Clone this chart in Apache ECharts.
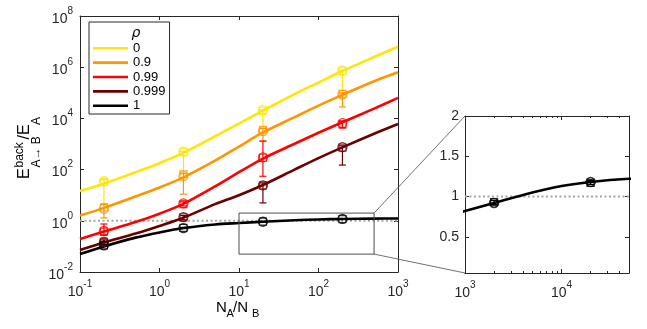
<!DOCTYPE html>
<html><head><meta charset="utf-8">
<script src="https://cdn.jsdelivr.net/npm/echarts@6/dist/echarts.min.js"></script>
<style>html,body{margin:0;padding:0;background:#fff}#c{width:647px;height:329px}</style>
</head><body><div id="c"></div>
<script>
const FONT = "'Liberation Sans',Arial,sans-serif";
const AX = '#262626';
const rhoLabels = ['0', '0.9', '0.99', '0.999', '1'];
const colors = ['#FFE600', '#FF9600', '#FF0000', '#6B0000', '#000000'];

// model curves
const curveX = [0.1, 0.2, 0.5, 1, 2, 5, 10, 20, 50, 100, 200, 500, 1000];
const curveRho0 = [14.5, 28, 79, 178, 447, 2000, 6300, 20000, 89000, 251000, 708000, 2500000, 6300000];
const curveRho09 = [1.6, 3.2, 8.9, 20, 50, 224, 794, 2820, 11200, 31600, 83000, 282000, 630000];
const curveRho099 = [0.195, 0.38, 0.89, 1.9, 4.6, 22, 79, 270, 1020, 2750, 7080, 24000, 63000];
const curveRho0999 = [0.072, 0.141, 0.316, 0.63, 1.32, 4.47, 10, 25, 100, 282, 741, 2510, 6030];
const curveRho1 = [0.05, 0.1, 0.22, 0.35, 0.52, 0.72, 0.82, 0.92, 1.05, 1.13, 1.18, 1.22, 1.23];
const curves = [curveRho0, curveRho09, curveRho099, curveRho0999, curveRho1];

// simulation points
const ptX = [0.2, 2, 20, 200];
const circRho0 = [35, 500, 21000, 750000];
const circRho09 = [2.9, 56, 3200, 85000];
const circRho099 = [0.4, 4.8, 300, 6500];
const circRho0999 = [0.15, 1.4, 24, 750];
const circRho1 = [0.11, 0.52, 0.92, 1.18];
const circles = [circRho0, circRho09, circRho099, circRho0999, circRho1];

const sqRho0 = [33, 480, 20000, 700000];
const sqRho09 = [3.3, 65, 3600, 90000];
const sqRho099 = [0.38, 4.5, 290, 6000];
const sqRho0999 = [0.15, 1.35, 24, 720];
const sqRho1 = [0.11, 0.53, 0.93, 1.17];
const squares = [sqRho0, sqRho09, sqRho099, sqRho0999, sqRho1];

const loRho0 = [4.5, 70, 4200, 95000];
const hiRho0 = [40, 520, 22000, 760000];
const loRho09 = [1.3, 11, 1300, 28000];
const hiRho09 = [4.5, 70, 4000, 100000];
const loRho099 = [0.28, 3.8, 55, 4200];
const hiRho099 = [0.75, 5.5, 1300, 7500];
const loRho0999 = [0.12, 1.1, 5, 150];
const hiRho0999 = [0.18, 1.6, 30, 850];
const loRho1 = [0.1, 0.5, 0.9, 1.15];
const hiRho1 = [0.12, 0.55, 0.95, 1.2];
const lows = [loRho0, loRho09, loRho099, loRho0999, loRho1];
const highs = [hiRho0, hiRho09, hiRho099, hiRho0999, hiRho1];

// axes
const xTicks = [0.1, 1, 10, 100, 1000];
const yTicks = [0.01, 1, 100, 1e4, 1e6, 1e8];
const refLevel = 1;
// zoom window (main coords) and inset
const zoomX = [10, 500];
const zoomY = [0.05, 2];
const insetScale = 100;
const insetX = [1000, 50000];
const insetXTicks = [1000, 10000];
const insetXMinor = [2000, 3000, 4000, 5000, 6000, 7000, 8000, 9000, 20000, 30000, 40000, 50000];
const insetYTicks = [0.5, 1, 1.5, 2];

const supFmt = v => '{b|10}{s|' + Math.round(Math.log10(v)) + '}';
const supRich = {
  b: { fontFamily: FONT, fontSize: 14, color: AX, lineHeight: 20, verticalAlign: 'bottom' },
  s: { fontFamily: FONT, fontSize: 10, color: AX, lineHeight: 12, verticalAlign: 'top' }
};

function axisBase(extra) {
  return Object.assign({
    axisLine: { show: true, lineStyle: { color: AX, width: 1 } },
    splitLine: { show: false },
    minorTick: { show: false },
  }, extra);
}

const chart = echarts.init(document.getElementById('c'), null, { renderer: 'canvas' });

const series = [];
// error bars
function errSeries(i, xi, yi, scale, xr) {
  const data = [];
  ptX.forEach((x, k) => {
    const xs = x * scale;
    if (!xr || (xs >= xr[0] && xs <= xr[1])) data.push([xs, lows[i][k], highs[i][k]]);
  });
  return {
    type: 'custom', name: 'err' + i + '_' + xi, xAxisIndex: xi, yAxisIndex: yi, z: 3, silent: true,
    encode: { x: 0, y: [1, 2] },
    renderItem(params, api) {
      const x = api.value(0);
      const p1 = api.coord([x, api.value(1)]);
      const p2 = api.coord([x, api.value(2)]);
      const w = 3.5, st = { stroke: colors[i], lineWidth: 1.2 };
      return { type: 'group', children: [
        { type: 'line', shape: { x1: p1[0], y1: p1[1], x2: p2[0], y2: p2[1] }, style: st },
        { type: 'line', shape: { x1: p1[0] - w, y1: p1[1], x2: p1[0] + w, y2: p1[1] }, style: st },
        { type: 'line', shape: { x1: p2[0] - w, y1: p2[1], x2: p2[0] + w, y2: p2[1] }, style: st }
      ]};
    },
    data: data
  };
}
for (let i = 0; i < 5; i++) {
  series.push({
    type: 'line', name: rhoLabels[i], xAxisIndex: 0, yAxisIndex: 0, z: 5,
    symbol: 'none', showSymbol: false, smooth: 0.3, lineStyle: { color: colors[i], width: 2.6 }, itemStyle: { color: colors[i] },
    data: curveX.map((x, k) => [x, curves[i][k]])
  });
  series.push(errSeries(i, 0, 0, 1, null));
  series.push({
    type: 'scatter', name: 'circ' + i, xAxisIndex: 0, yAxisIndex: 0, z: 6, symbol: 'circle', symbolSize: 9,
    itemStyle: { color: 'rgba(0,0,0,0)', borderColor: colors[i], borderWidth: 1.3 },
    data: ptX.map((x, k) => [x, circles[i][k]])
  });
  series.push({
    type: 'scatter', name: 'sq' + i, xAxisIndex: 0, yAxisIndex: 0, z: 6, symbol: 'rect', symbolSize: 7,
    itemStyle: { color: 'rgba(0,0,0,0)', borderColor: colors[i], borderWidth: 1.2 },
    data: ptX.map((x, k) => [x, squares[i][k]])
  });
}
// reference dotted line (main)
series.push({
  type: 'line', name: 'ref', xAxisIndex: 0, yAxisIndex: 0, z: 2, symbol: 'none',
  lineStyle: { color: '#a6a6a6', width: 2, type: [2, 2.5] },
  data: [[xTicks[0], refLevel], [xTicks[xTicks.length - 1], refLevel]]
});
// zoom rectangle
series.push({
  type: 'line', name: 'zoomRect', xAxisIndex: 0, yAxisIndex: 0, z: 7, symbol: 'none',
  lineStyle: { color: '#4d4d4d', width: 1 },
  data: [[zoomX[0], zoomY[0]], [zoomX[1], zoomY[0]], [zoomX[1], zoomY[1]], [zoomX[0], zoomY[1]], [zoomX[0], zoomY[0]]]
});
// inset
series.push({
  type: 'line', name: 'insRef', xAxisIndex: 2, yAxisIndex: 2, z: 2, symbol: 'none',
  lineStyle: { color: '#a6a6a6', width: 2, type: [2, 2.5] },
  data: [[insetX[0], refLevel], [insetX[1], refLevel]]
});
series.push({
  type: 'line', name: 'ins1', xAxisIndex: 2, yAxisIndex: 2, z: 5, symbol: 'none', smooth: 0.3,
  lineStyle: { color: colors[4], width: 2.6 },
  data: curveX.map((x, k) => [x * insetScale, curves[4][k]])
});
series.push(errSeries(4, 2, 2, insetScale, insetX));
series.push({
  type: 'scatter', name: 'insC', xAxisIndex: 2, yAxisIndex: 2, z: 6, symbol: 'circle', symbolSize: 9,
  itemStyle: { color: 'rgba(0,0,0,0)', borderColor: '#000', borderWidth: 1.5 },
  data: ptX.map((x, k) => [x * insetScale, circles[4][k]]).filter(d => d[0] >= insetX[0])
});
series.push({
  type: 'scatter', name: 'insS', xAxisIndex: 2, yAxisIndex: 2, z: 6, symbol: 'rect', symbolSize: 7,
  itemStyle: { color: 'rgba(0,0,0,0)', borderColor: '#000', borderWidth: 1.3 },
  data: ptX.map((x, k) => [x * insetScale, squares[4][k]]).filter(d => d[0] >= insetX[0])
});

const mainX = { type: 'log', logBase: 10, gridIndex: 0, min: xTicks[0], max: xTicks[xTicks.length - 1] };
const mainY = { type: 'log', logBase: 10, gridIndex: 0, min: yTicks[0], max: yTicks[yTicks.length - 1] };
const insX = { type: 'log', logBase: 10, gridIndex: 1, min: insetX[0], max: insetX[1] };
const insY = { type: 'value', gridIndex: 1, min: zoomY[0], max: zoomY[1] };

const option = {
  animation: false,
  backgroundColor: '#fff',
  grid: [
    { left: 80, top: 16, width: 318, height: 256 },
    { left: 465, top: 116, width: 164, height: 157 }
  ],
  xAxis: [
    axisBase(Object.assign({}, mainX, { position: 'bottom',
      axisTick: { show: true, inside: true, length: 4, lineStyle: { color: AX }, customValues: xTicks },
      axisLabel: { show: true, margin: 7, formatter: supFmt, rich: supRich, customValues: xTicks } })),
    axisBase(Object.assign({}, mainX, { position: 'top',
      axisTick: { show: true, inside: true, length: 4, lineStyle: { color: AX }, customValues: xTicks },
      axisLabel: { show: false } })),
    axisBase(Object.assign({}, insX, { position: 'bottom',
      axisTick: { show: true, inside: true, length: 4, lineStyle: { color: AX }, customValues: insetXTicks },
      axisLabel: { show: true, margin: 7, formatter: supFmt, rich: supRich, customValues: insetXTicks } })),
    axisBase(Object.assign({}, insX, { position: 'top',
      axisTick: { show: true, inside: true, length: 4, lineStyle: { color: AX }, customValues: insetXTicks },
      axisLabel: { show: false } })),
    axisBase(Object.assign({}, insX, { position: 'bottom', axisLine: { show: false },
      axisTick: { show: true, inside: true, length: 2, lineStyle: { color: AX }, customValues: insetXMinor },
      axisLabel: { show: false } })),
    axisBase(Object.assign({}, insX, { position: 'top', axisLine: { show: false },
      axisTick: { show: true, inside: true, length: 2, lineStyle: { color: AX }, customValues: insetXMinor },
      axisLabel: { show: false } }))
  ],
  yAxis: [
    axisBase(Object.assign({}, mainY, { position: 'left',
      axisTick: { show: true, inside: true, length: 4, lineStyle: { color: AX }, customValues: yTicks },
      axisLabel: { show: true, margin: 7, formatter: supFmt, rich: supRich, customValues: yTicks } })),
    axisBase(Object.assign({}, mainY, { position: 'right',
      axisTick: { show: true, inside: true, length: 4, lineStyle: { color: AX }, customValues: yTicks },
      axisLabel: { show: false } })),
    axisBase(Object.assign({}, insY, { position: 'left',
      axisTick: { show: true, inside: true, length: 4, lineStyle: { color: AX }, customValues: insetYTicks },
      axisLabel: { show: true, margin: 6, color: AX, fontFamily: FONT, fontSize: 14, customValues: insetYTicks,
        formatter: v => String(v) } })),
    axisBase(Object.assign({}, insY, { position: 'right',
      axisTick: { show: true, inside: true, length: 4, lineStyle: { color: AX }, customValues: insetYTicks },
      axisLabel: { show: false } }))
  ],
  legend: {
    data: rhoLabels, orient: 'vertical', left: 89, top: 22, icon: 'rect', itemWidth: 35, itemHeight: 2.6, itemGap: 0,
    padding: [19, 4, 1, 4], borderColor: AX, borderWidth: 1, backgroundColor: '#fff',
    textStyle: { fontFamily: FONT, fontSize: 13, color: '#000', lineHeight: 14.4 }, selectedMode: false, z: 20
  },
  series: series
};
chart.setOption(option);

// texts and connector lines
const pTR = chart.convertToPixel({ xAxisIndex: 0, yAxisIndex: 0 }, [zoomX[1], zoomY[1]]);
const pBR = chart.convertToPixel({ xAxisIndex: 0, yAxisIndex: 0 }, [zoomX[1], zoomY[0]]);
const qTL = chart.convertToPixel({ xAxisIndex: 2, yAxisIndex: 2 }, [insetX[0], zoomY[1]]);
const qBL = chart.convertToPixel({ xAxisIndex: 2, yAxisIndex: 2 }, [insetX[0], zoomY[0]]);
const t = (text, x, y, size, extra) => Object.assign({ type: 'text', x: x, y: y,
  style: { text: text, fontFamily: FONT, fontSize: size, fill: '#000', textVerticalAlign: 'top' } }, extra || {});
chart.setOption({
  graphic: [
    { type: 'line', shape: { x1: pTR[0], y1: pTR[1], x2: qTL[0], y2: qTL[1] }, style: { stroke: '#4d4d4d', lineWidth: 0.8 }, z: 10 },
    { type: 'line', shape: { x1: pBR[0], y1: pBR[1], x2: qBL[0], y2: qBL[1] }, style: { stroke: '#4d4d4d', lineWidth: 0.8 }, z: 10 },
    { type: 'text', x: 136, y: 33, z: 30, style: { text: 'ρ', fontFamily: 'DejaVu Sans', fontStyle: 'italic', fontSize: 14, fill: '#000', textAlign: 'center', textVerticalAlign: 'middle' } },
    { type: 'group', x: 17, y: 179, rotation: Math.PI / 2, z: 30, children: [
      t('E', 0, 0, 16),
      t('back', 11.5, -3, 12),
      t('A\u2192 B', 11.5, 14, 12),
      t('/E', 39.5, 0, 16),
      t('A', 54, 14, 12)
    ]},
    { type: 'group', x: 216, y: 300, z: 30, children: [
      t('N', 0, 0, 15),
      t('A', 10.5, 8, 11),
      t('/N', 17, 0, 15),
      t('B', 36, 8, 11)
    ]}
  ]
});
</script></body></html>
